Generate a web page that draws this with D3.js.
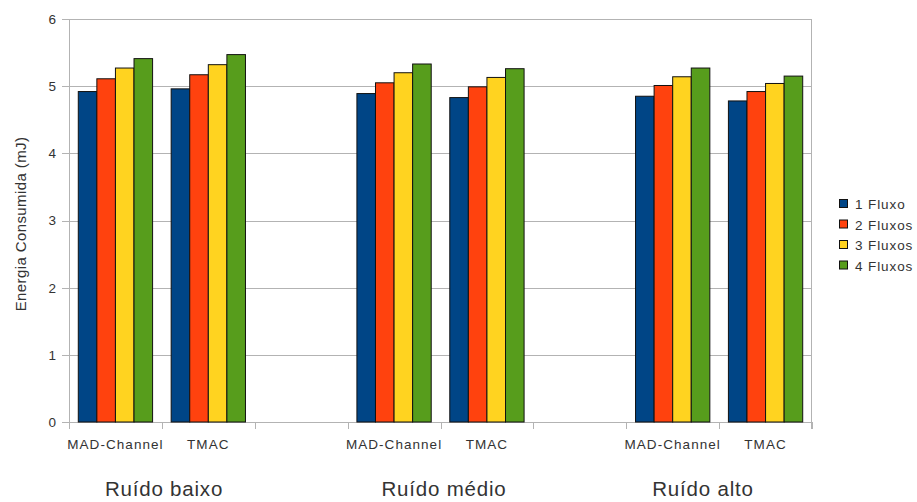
<!DOCTYPE html>
<html>
<head>
<meta charset="utf-8">
<script src="https://cdn.jsdelivr.net/npm/d3@7"></script>
<style>
  html, body { margin: 0; padding: 0; background: #fff; }
  svg { display: block; font-family: "Liberation Sans", Arial, sans-serif; }
</style>
</head>
<body>
<svg id="chart" width="917" height="502"></svg>
<script>
// Energy consumed per protocol, grouped by noise level (blank slots separate the groups)
const slotLabels = ["MAD-Channel", "TMAC", "", "MAD-Channel", "TMAC", "", "MAD-Channel", "TMAC"];
const seriesNames = ["1 Fluxo", "2 Fluxos", "3 Fluxos", "4 Fluxos"];
const seriesColors = ["#004586", "#ff420e", "#ffd320", "#579d1c"];
const fluxo1 = [4.92, 4.96, null, 4.89, 4.83, null, 4.85, 4.78];
const fluxo2 = [5.11, 5.17, null, 5.05, 4.99, null, 5.01, 4.92];
const fluxo3 = [5.27, 5.32, null, 5.20, 5.13, null, 5.14, 5.04];
const fluxo4 = [5.41, 5.47, null, 5.33, 5.26, null, 5.27, 5.15];
const yTicks = [0, 1, 2, 3, 4, 5, 6];
const groupTitles = ["Ruído baixo", "Ruído médio", "Ruído alto"];
const yTitle = "Energia Consumida (mJ)";

const seriesValues = [fluxo1, fluxo2, fluxo3, fluxo4];

const svg = d3.select("#chart");
const plot = { left: 69, right: 812, top: 19, bottom: 422 };

const x = d3.scaleBand()
  .domain(d3.range(slotLabels.length))
  .range([plot.left, plot.right])
  .padding(0);

const xInner = d3.scaleBand()
  .domain(seriesNames)
  .range([0, x.bandwidth()])
  .paddingInner(0)
  .paddingOuter(0.5);

const y = d3.scaleLinear().domain([0, 6]).range([plot.bottom, plot.top]);

// horizontal grid lines with short ticks to the left
svg.append("g")
  .selectAll("line")
  .data(yTicks)
  .join("line")
  .attr("x1", plot.left - 7)
  .attr("x2", plot.right)
  .attr("y1", d => Math.round(y(d)) + 0.5)
  .attr("y2", d => Math.round(y(d)) + 0.5)
  .attr("stroke", "#b3b3b3")
  .attr("stroke-width", 1);

// plot frame sides
svg.append("line")
  .attr("x1", plot.left + 0.5).attr("x2", plot.left + 0.5)
  .attr("y1", plot.top).attr("y2", plot.bottom + 7)
  .attr("stroke", "#b3b3b3");
svg.append("line")
  .attr("x1", plot.right - 0.5).attr("x2", plot.right - 0.5)
  .attr("y1", plot.top).attr("y2", plot.bottom + 7)
  .attr("stroke", "#b3b3b3");

// y tick labels
svg.append("g")
  .selectAll("text")
  .data(yTicks)
  .join("text")
  .attr("x", plot.left - 13)
  .attr("y", d => y(d))
  .attr("dy", "0.36em")
  .attr("text-anchor", "end")
  .attr("font-size", 13.5)
  .attr("fill", "#333")
  .text(d => d);

// category boundary ticks on the x axis
const boundaries = d3.range(slotLabels.length + 1).map(i => plot.left + i * x.step());
svg.append("g")
  .selectAll("line")
  .data(boundaries)
  .join("line")
  .attr("x1", d => Math.round(d) + 0.5)
  .attr("x2", d => Math.round(d) + 0.5)
  .attr("y1", plot.bottom)
  .attr("y2", plot.bottom + 7)
  .attr("stroke", "#b3b3b3");

// bars
const barData = [];
seriesValues.forEach((vals, si) => {
  vals.forEach((v, i) => {
    if (v != null) barData.push({ slot: i, series: seriesNames[si], color: seriesColors[si], value: v });
  });
});

svg.append("g")
  .selectAll("rect")
  .data(barData)
  .join("rect")
  .attr("x", d => x(d.slot) + xInner(d.series))
  .attr("y", d => y(d.value))
  .attr("width", xInner.bandwidth())
  .attr("height", d => y(0) - y(d.value))
  .attr("fill", d => d.color)
  .attr("stroke", "#111")
  .attr("stroke-width", 1);

// category labels
svg.append("g")
  .selectAll("text")
  .data(slotLabels.map((t, i) => ({ t, i })).filter(d => d.t))
  .join("text")
  .attr("x", d => x(d.i) + x.bandwidth() / 2)
  .attr("y", 449)
  .attr("text-anchor", "middle")
  .attr("font-size", 13.5)
  .attr("letter-spacing", 1.05)
  .attr("fill", "#333")
  .text(d => d.t);

// noise level titles under each group
const titleX = [164, 444, 703];
svg.append("g")
  .selectAll("text")
  .data(groupTitles)
  .join("text")
  .attr("x", (d, i) => titleX[i])
  .attr("y", 496)
  .attr("text-anchor", "middle")
  .attr("font-size", 20.5)
  .attr("letter-spacing", 0.8)
  .attr("fill", "#333")
  .text(d => d);

// y axis title
svg.append("text")
  .attr("transform", "translate(26, 224) rotate(-90)")
  .attr("text-anchor", "middle")
  .attr("font-size", 15)
  .attr("letter-spacing", 0.4)
  .attr("fill", "#333")
  .text(yTitle);

// legend
const legend = svg.append("g").attr("transform", "translate(839, 199)");
const rows = legend.selectAll("g")
  .data(seriesNames)
  .join("g")
  .attr("transform", (d, i) => `translate(0, ${i * 20.5})`);
rows.append("rect")
  .attr("x", 0.5).attr("y", 0.5)
  .attr("width", 8).attr("height", 8)
  .attr("fill", (d, i) => seriesColors[i])
  .attr("stroke", "#111");
rows.append("text")
  .attr("x", 16)
  .attr("y", 10)
  .attr("font-size", 13.5)
  .attr("letter-spacing", 0.9)
  .attr("fill", "#333")
  .text(d => d);
</script>
</body>
</html>
